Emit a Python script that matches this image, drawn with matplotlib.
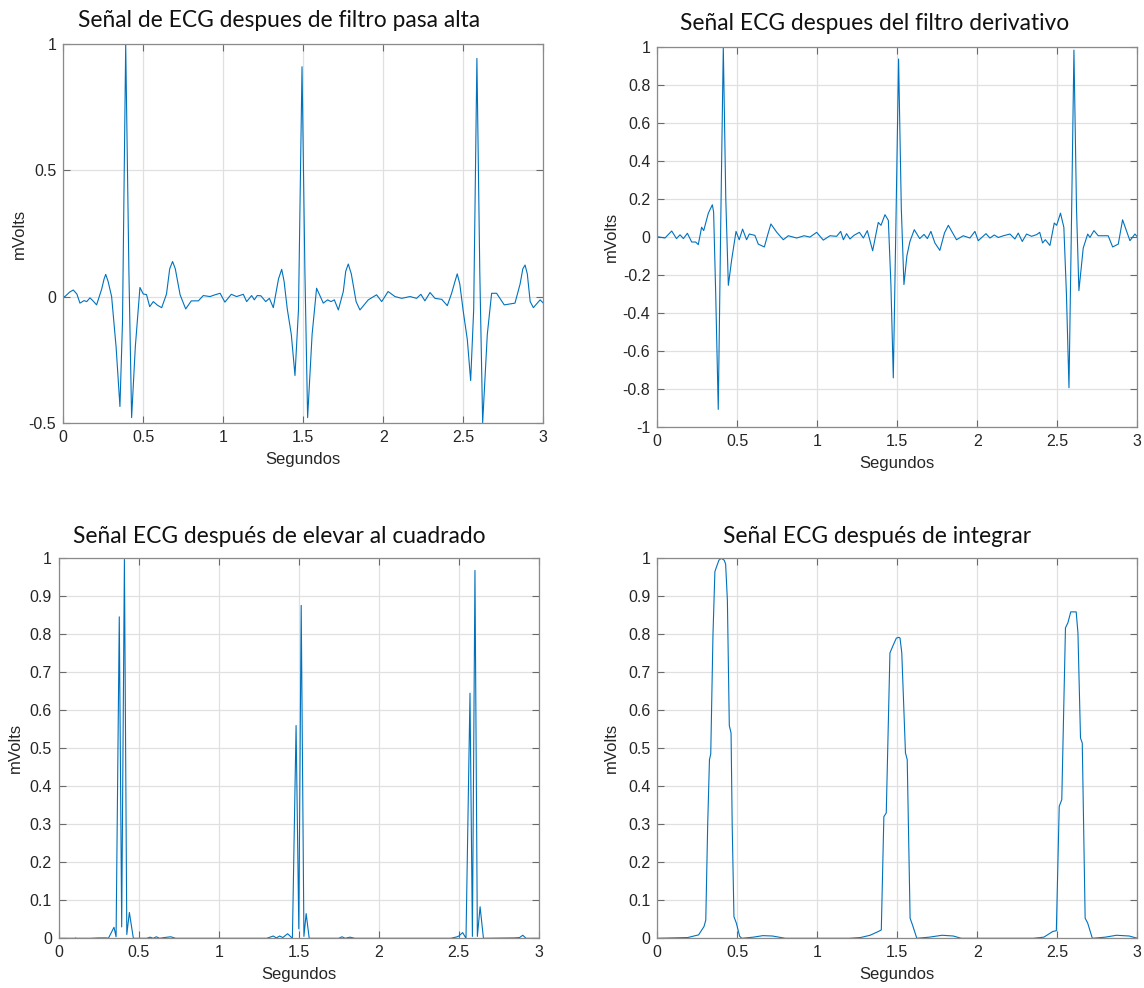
import matplotlib
matplotlib.use("Agg")
import matplotlib.pyplot as plt

plt.rcParams['axes.unicode_minus'] = False
plt.rcParams['font.family'] = ['Liberation Sans', 'DejaVu Sans']

# ---- data (seconds, mVolts) ----
t_pasa_alta = [0.0, 0.01, 0.04, 0.0625, 0.085, 0.104, 0.13, 0.146, 0.167, 0.19, 0.208, 0.24, 0.255,
               0.265, 0.28, 0.302, 0.33, 0.354, 0.37, 0.39, 0.41, 0.427, 0.45, 0.479, 0.5, 0.52, 0.54,
               0.5625, 0.59, 0.615, 0.645, 0.665, 0.683, 0.70, 0.73, 0.765, 0.80, 0.844, 0.875,
               0.917, 0.948, 0.98, 1.01, 1.05, 1.083, 1.125, 1.146, 1.177, 1.194, 1.212, 1.235, 1.265,
               1.288, 1.3125, 1.345, 1.365, 1.38, 1.40, 1.425, 1.448, 1.47, 1.492, 1.51, 1.527, 1.555,
               1.583, 1.625, 1.652, 1.673, 1.694, 1.719, 1.75, 1.765, 1.781, 1.80, 1.83, 1.854, 1.906,
               1.958, 1.99, 2.03, 2.073, 2.115, 2.167, 2.208, 2.235, 2.26, 2.292, 2.323, 2.365, 2.40,
               2.427, 2.448, 2.462, 2.478, 2.50, 2.525, 2.546, 2.565, 2.585, 2.603, 2.621, 2.65, 2.677,
               2.708, 2.756, 2.823, 2.855, 2.872, 2.886, 2.90, 2.918, 2.938, 2.98, 3.0]
v_pasa_alta = [0.0, 0.0, 0.018, 0.026, 0.01, -0.026, -0.016, -0.02, -0.005, -0.02, -0.033, 0.03, 0.07,
               0.088, 0.06, 0.0, -0.2, -0.436, -0.1, 1.0, 0.1, -0.48, -0.2, 0.036, 0.01, 0.008, -0.04,
               -0.02, -0.035, -0.044, 0.01, 0.11, 0.139, 0.11, 0.007, -0.049, -0.017, -0.017, 0.004,
               0.0, 0.007, 0.013, -0.022, 0.009, 0.0, 0.009, -0.02, 0.004, -0.013, 0.004, 0.003,
               -0.02, -0.007, -0.044, 0.07, 0.108, 0.06, -0.05, -0.15, -0.313, -0.05, 0.911, 0.1,
               -0.48, -0.15, 0.033, -0.026, -0.013, -0.02, -0.013, -0.053, 0.02, 0.1, 0.129, 0.09,
               -0.02, -0.053, -0.013, 0.007, -0.02, 0.02, 0.0, -0.007, 0.0, -0.007, 0.009, -0.017,
               0.016, -0.007, -0.011, -0.036, 0.013, 0.06, 0.09, 0.05, -0.06, -0.17, -0.333, -0.05,
               0.944, 0.1, -0.50, -0.15, 0.013, 0.013, -0.033, -0.026, 0.05, 0.11, 0.125, 0.09, -0.02,
               -0.044, -0.013, -0.026]

t_deriv = [0.0, 0.048, 0.09, 0.12, 0.142, 0.163, 0.188, 0.215, 0.24, 0.256, 0.277, 0.29, 0.319, 0.344,
           0.352, 0.365, 0.381, 0.397, 0.4125, 0.428, 0.444, 0.465, 0.492, 0.512, 0.533, 0.558, 0.575,
           0.61, 0.631, 0.669, 0.69, 0.71, 0.746, 0.7875, 0.819, 0.871, 0.917, 0.954, 0.996, 1.0375,
           1.079, 1.121, 1.146, 1.163, 1.183, 1.204, 1.229, 1.263, 1.288, 1.3125, 1.346, 1.381, 1.398,
           1.423, 1.444, 1.46, 1.475, 1.492, 1.508, 1.525, 1.5415, 1.56, 1.579, 1.606, 1.64, 1.667,
           1.688, 1.71, 1.735, 1.766, 1.795, 1.819, 1.87, 1.912, 1.954, 1.985, 2.006, 2.054, 2.079,
           2.106, 2.131, 2.163, 2.204, 2.235, 2.256, 2.281, 2.308, 2.339, 2.371, 2.39, 2.408, 2.425,
           2.454, 2.481, 2.496, 2.52, 2.541, 2.557, 2.573, 2.589, 2.604, 2.62, 2.635, 2.662, 2.69,
           2.704, 2.729, 2.756, 2.818, 2.846, 2.881, 2.908, 2.954, 2.985, 3.0]
v_deriv = [0.0, -0.007, 0.03, -0.01, 0.01, -0.01, 0.018, -0.028, -0.028, -0.042, 0.05, 0.032, 0.124,
           0.168, 0.13, -0.3, -0.909, 0.1, 1.0, 0.2, -0.256, -0.12, 0.028, -0.016, 0.04, -0.016, 0.014,
           0.007, -0.039, -0.054, 0.01, 0.067, 0.024, -0.016, 0.005, -0.007, 0.005, -0.002, 0.023,
           -0.018, 0.005, 0.002, 0.028, -0.016, 0.016, -0.012, 0.007, 0.023, -0.007, 0.032, -0.074,
           0.075, 0.06, 0.116, 0.086, -0.25, -0.743, 0.1, 0.935, 0.15, -0.252, -0.1, -0.025, 0.037,
           -0.01, 0.012, -0.01, 0.028, -0.033, -0.072, 0.02, 0.06, -0.016, 0.005, -0.007, 0.028,
           -0.021, 0.016, -0.007, 0.009, -0.004, 0.005, 0.014, -0.012, 0.019, -0.025, 0.014, 0.002,
           0.011, 0.023, -0.033, -0.016, -0.046, 0.072, 0.06, 0.124, 0.049, -0.3, -0.795, 0.1, 0.982,
           0.15, -0.284, -0.06, 0.014, -0.004, 0.032, 0.005, 0.005, -0.054, -0.039, 0.089, -0.021,
           0.014, 0.0]

t_cuadrado = [0.0, 0.10, 0.105, 0.11, 0.2, 0.25, 0.30, 0.31, 0.345, 0.358, 0.378, 0.393, 0.41, 0.425,
              0.441, 0.466, 0.55, 0.57, 0.59, 0.61, 0.63, 0.66, 0.70, 0.73, 1.3, 1.34, 1.36, 1.38, 1.40,
              1.43, 1.45, 1.46, 1.483, 1.50, 1.515, 1.532, 1.546, 1.565, 1.75, 1.77, 1.79, 1.82, 1.85,
              2.45, 2.49, 2.50, 2.524, 2.545, 2.570, 2.585, 2.601, 2.616, 2.633, 2.654, 2.85, 2.88, 2.90,
              2.92, 3.0]
v_cuadrado = [0.0, 0.0, 0.001, 0.0, 0.0, 0.001, 0.001, 0.0, 0.029, 0.004, 0.846, 0.03, 0.997, 0.01,
              0.068, 0.0, 0.0, 0.003, 0.0, 0.004, 0.0, 0.002, 0.004, 0.0, 0.0, 0.006, 0.001, 0.006,
              0.002, 0.012, 0.004, 0.0, 0.56, 0.025, 0.876, 0.005, 0.065, 0.0, 0.0, 0.004, 0.0, 0.003,
              0.0, 0.0, 0.004, 0.006, 0.015, 0.0, 0.645, 0.005, 0.968, 0.005, 0.083, 0.0, 0.001, 0.002,
              0.008, 0.0, 0.0]

t_integ = [0.0, 0.19, 0.258, 0.292, 0.303, 0.315, 0.326, 0.334, 0.348, 0.36, 0.368, 0.385, 0.40, 0.418,
           0.427, 0.438, 0.45, 0.461, 0.468, 0.479, 0.494, 0.515, 0.528, 0.6, 0.66, 0.72, 0.8, 1.2, 1.27,
           1.33, 1.382, 1.40, 1.416, 1.431, 1.454, 1.472, 1.494, 1.51, 1.517, 1.528, 1.551, 1.562, 1.58,
           1.595, 1.622, 1.7, 1.78, 1.85, 1.9, 2.35, 2.416, 2.472, 2.494, 2.512, 2.528, 2.551, 2.566,
           2.584, 2.618, 2.629, 2.645, 2.656, 2.674, 2.69, 2.719, 2.8, 2.87, 2.95, 3.0]
v_integ = [0.0, 0.002, 0.009, 0.031, 0.048, 0.30, 0.47, 0.485, 0.80, 0.965, 0.975, 0.995, 1.0, 0.995,
           0.985, 0.89, 0.56, 0.54, 0.30, 0.057, 0.04, 0.005, 0.0, 0.003, 0.007, 0.006, 0.0, 0.0, 0.002,
           0.008, 0.018, 0.022, 0.32, 0.33, 0.751, 0.769, 0.79, 0.792, 0.79, 0.751, 0.488, 0.47, 0.053,
           0.035, 0.0, 0.003, 0.008, 0.006, 0.0, 0.0, 0.003, 0.018, 0.02, 0.347, 0.365, 0.817, 0.83,
           0.859, 0.859, 0.804, 0.527, 0.514, 0.053, 0.04, 0.0, 0.003, 0.008, 0.006, 0.0]

titles = ["Señal de ECG despues de filtro pasa alta",
          "Señal ECG despues del filtro derivativo",
          "Señal ECG después de elevar al cuadrado",
          "Señal ECG después de integrar"]
x_ticks = [0, 0.5, 1, 1.5, 2, 2.5, 3]
x_labels = ["0", "0.5", "1", "1.5", "2", "2.5", "3"]
y_ticks_1 = [-0.5, 0, 0.5, 1]
y_labels_1 = ["-0.5", "0", "0.5", "1"]
y_ticks_2 = [-1, -0.8, -0.6, -0.4, -0.2, 0, 0.2, 0.4, 0.6, 0.8, 1]
y_labels_2 = ["-1", "-0.8", "-0.6", "-0.4", "-0.2", "0", "0.2", "0.4", "0.6", "0.8", "1"]
y_ticks_3 = [0, 0.1, 0.2, 0.3, 0.4, 0.5, 0.6, 0.7, 0.8, 0.9, 1]
y_labels_3 = ["0", "0.1", "0.2", "0.3", "0.4", "0.5", "0.6", "0.7", "0.8", "0.9", "1"]

W, H = 1144, 988
fig = plt.figure(figsize=(W / 100, H / 100), dpi=100)


def rect(l, t, w, h):
    return [l / W, 1 - (t + h) / H, w / W, h / H]


def panel(r, t, v, yt, yl, ylim, title, tx, ty, ylab_x):
    ax = fig.add_axes(rect(*r))
    ax.plot(t, v, color='#0072BD', lw=0.8)
    ax.set_xlim(0, 3)
    ax.set_ylim(*ylim)
    ax.set_xticks(x_ticks)
    ax.set_xticklabels(x_labels)
    ax.set_yticks(yt)
    ax.set_yticklabels(yl)
    ax.grid(True, color='#e0e0e0', lw=0.9)
    ax.set_axisbelow(True)
    ax.tick_params(direction='in', top=True, right=True, length=5, width=0.8,
                   colors='#6a6a6a', labelcolor='#262626', labelsize=11.5, pad=5)
    for s in ax.spines.values():
        s.set_color('#8a8a8a')
        s.set_linewidth(0.9)
    ax.set_xlabel("Segundos", fontsize=12, color='#262626', labelpad=5)
    ax.set_ylabel("mVolts", fontsize=12, color='#262626')
    ax.yaxis.set_label_coords(ylab_x, 0.5)
    fig.text(tx / W, 1 - ty / H, title, family=['Lato', 'DejaVu Sans'], fontsize=16.4,
             ha='center', va='baseline', color='#111111')
    return ax


panel((63.3, 44.3, 480, 378.4), t_pasa_alta, v_pasa_alta, y_ticks_1, y_labels_1, (-0.5, 1),
      titles[0], 279, 27, -0.075)
panel((657.3, 46.7, 480, 380), t_deriv, v_deriv, y_ticks_2, y_labels_2, (-1, 1),
      titles[1], 875, 30, -0.08)
panel((58.8, 558.3, 480, 380), t_cuadrado, v_cuadrado, y_ticks_3, y_labels_3, (0, 1),
      titles[2], 279.5, 543, -0.075)
panel((657.3, 558.3, 480, 380), t_integ, v_integ, y_ticks_3, y_labels_3, (0, 1),
      titles[3], 877, 543, -0.08)

fig.savefig("out.png", dpi=100)
